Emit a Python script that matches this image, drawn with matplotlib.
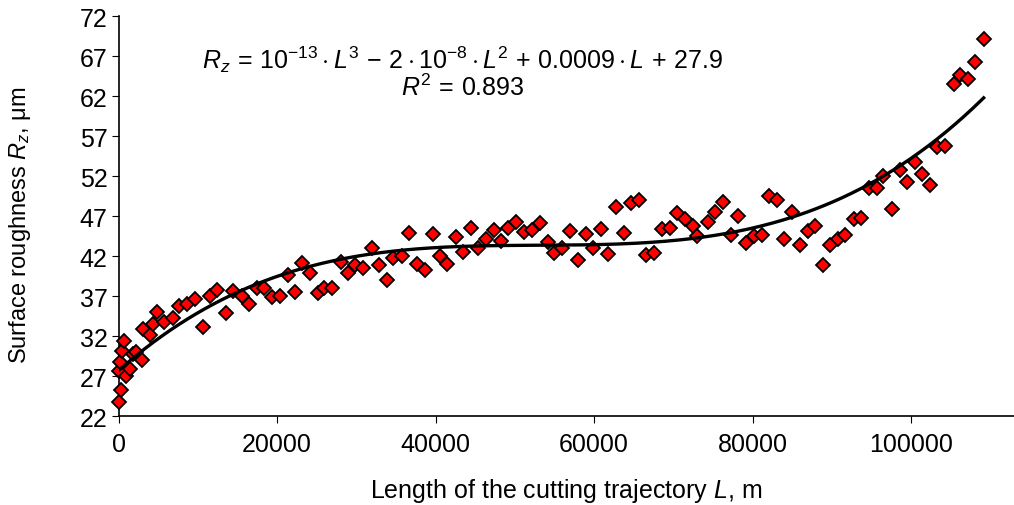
import numpy as np
import matplotlib
matplotlib.use("Agg")
import matplotlib.pyplot as plt

plt.rcParams['font.family'] = ['Liberation Sans', 'DejaVu Sans']
plt.rcParams['mathtext.fontset'] = 'custom'
plt.rcParams['mathtext.rm'] = 'Liberation Sans'
plt.rcParams['mathtext.it'] = 'Liberation Sans:italic'
plt.rcParams['mathtext.bf'] = 'Liberation Sans:bold'

# length of the cutting trajectory L, m
L = [0, 250, 100, 200, 400, 700, 900, 1400, 1800, 2200, 2900, 3100, 3950, 4370,
     4870, 5720, 6820, 7650, 8660, 9630, 10600, 11530, 12450,
     13510, 14470, 15530, 16450, 17420, 18380, 19320, 20370, 21340, 22260,
     23180, 24150, 25130, 25960, 26890,
     28030, 28990, 29840, 30880, 31940, 32900, 33840, 34670, 35730, 36690,
     37630, 38670, 39650, 40570, 41410,
     42550, 43510, 44480, 45400, 46340, 47420, 48270, 49190, 50120, 51210,
     52140, 53190, 54170, 55000, 55930,
     56980, 58030, 59000, 59920, 60860, 61820, 62790, 63800, 64650, 65730,
     66580, 67590, 68560, 69610, 70450, 71500, 72470, 73050,
     74320, 75290, 76260, 77270, 78230, 79200, 80210, 81190, 82020, 83080,
     84000, 84980, 85930, 86940, 87920, 88890, 89810, 90730, 91700, 92750,
     93720, 94650, 95710, 96460, 97600, 98560, 99490, 100540, 101390, 102350,
     103280, 104330, 105380, 106220, 107150, 108120, 109170]

# surface roughness Rz, um
Rz = [23.8, 25.3, 27.7, 28.8, 30.2, 31.4, 27.1, 27.9, 29.8, 30.0, 29.1, 32.9, 32.2, 33.5,
      35.1, 33.75, 34.25, 35.75, 36.1, 36.65, 33.2, 37.0, 37.8,
      34.9, 37.7, 37.0, 36.0, 38.1, 38.0, 36.95, 37.1, 39.65, 37.5,
      41.15, 39.9, 37.4, 38.0, 38.0,
      41.3, 39.9, 40.9, 40.6, 43.0, 40.9, 39.1, 41.8, 42.0, 44.9,
      41.0, 40.3, 44.75, 42.0, 41.0,
      44.4, 42.6, 45.6, 43.1, 44.2, 45.3, 43.95, 45.5, 46.3, 45.1,
      45.3, 46.2, 43.75, 42.4, 43.1,
      45.2, 41.5, 44.8, 43.1, 45.4, 42.3, 48.2, 44.9, 48.65, 49.1,
      42.2, 42.4, 45.4, 45.6, 47.4, 46.7, 45.8, 44.5,
      46.3, 47.6, 48.75, 44.65, 47.0, 43.65, 44.5, 44.65, 49.5, 49.1,
      44.15, 47.6, 43.4, 45.2, 45.75, 40.9, 43.4, 44.15, 44.65, 46.65,
      46.85, 50.6, 50.6, 52.1, 47.9, 52.8, 51.3, 53.8, 52.3, 50.9,
      55.6, 55.8, 63.5, 64.7, 64.2, 66.3, 69.2]

x_ticks = [0, 20000, 40000, 60000, 80000, 100000]
y_ticks = [22, 27, 32, 37, 42, 47, 52, 57, 62, 67, 72]

fig = plt.figure(figsize=(10.14, 5.06), dpi=100)
ax = fig.add_axes([0.117, 0.175, 0.883, 0.791])

ax.plot(L, Rz, linestyle='none', marker='D', markersize=7.5,
        markerfacecolor='#ff0000', markeredgecolor='black', markeredgewidth=1.3,
        clip_on=False, zorder=3)

# cubic trend line (like the Excel trendline)
coef = np.polyfit(L, Rz, 3)
xx = np.linspace(min(L), max(L), 300)
ax.plot(xx, np.polyval(coef, xx), color='black', linewidth=2.4, zorder=4)

ax.set_xlim(0, 113000)
ax.set_ylim(22, 72)
ax.set_xticks(x_ticks)
ax.set_xticklabels([str(v) for v in x_ticks])
ax.set_yticks(y_ticks)

for s in ['top', 'right']:
    ax.spines[s].set_visible(False)
for s in ['left', 'bottom']:
    ax.spines[s].set_linewidth(1.2)
ax.tick_params(direction='out', length=5, width=0.8, labelsize=18)
ax.tick_params(axis='x', pad=6)
ax.tick_params(axis='y', pad=3)

ax.set_xlabel('Length of the cutting trajectory $L$, m', fontsize=18)
ax.set_ylabel('Surface roughness $R_z$, μm', fontsize=17)
ax.xaxis.set_label_coords(0.5, -0.148)
ax.yaxis.set_label_coords(-0.096, 0.48)

ax.text(0.384, 0.893,
        r'$R_z\,=\,10^{-13}\cdot L^3\,-\,2\cdot 10^{-8}\cdot L^2\,+\,0.0009\cdot L\,+\,27.9$',
        transform=ax.transAxes, ha='center', va='center', fontsize=18)
ax.text(0.384, 0.823, r'$R^2\,=\,0.893$', transform=ax.transAxes,
        ha='center', va='center', fontsize=18)

fig.savefig('out.png', dpi=100)
